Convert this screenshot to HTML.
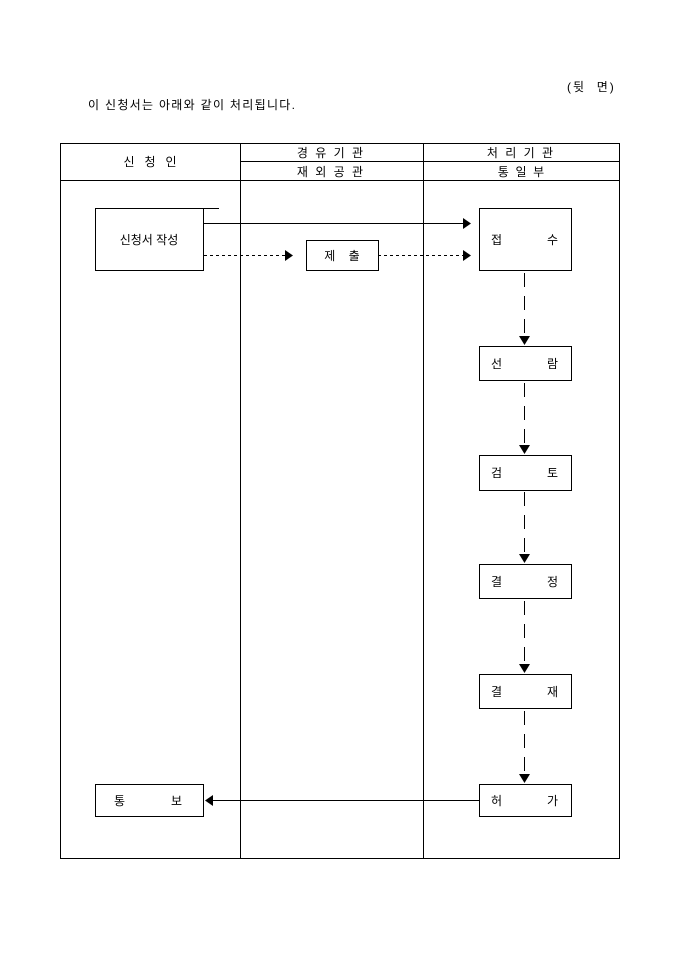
<!DOCTYPE html>
<html><head><meta charset="utf-8"><style>
body{margin:0;background:#fff;width:680px;height:962px;overflow:hidden}
svg text{font-family:"Liberation Sans","Noto Sans CJK KR","NanumGothic",sans-serif;font-size:12px;fill:#000}
</style></head><body>
<svg width="680" height="962" xmlns="http://www.w3.org/2000/svg">
<text x="567" y="91" letter-spacing="2" xml:space="preserve">(뒷  면)</text>
<text x="88" y="109" letter-spacing="1.3">이 신청서는 아래와 같이 처리됩니다.</text>
<g stroke="#000" stroke-width="1" fill="none">
<rect x="60.5" y="143.5" width="559" height="715"/>
<line x1="240.5" y1="143" x2="240.5" y2="859"/>
<line x1="423.5" y1="143" x2="423.5" y2="859"/>
<line x1="240" y1="161.5" x2="620" y2="161.5"/>
<line x1="60" y1="180.5" x2="620" y2="180.5"/>
<rect x="95.5" y="208.5" width="108" height="62"/>
<line x1="203" y1="208.5" x2="219" y2="208.5"/>
<rect x="479.5" y="208.5" width="92" height="62"/>
<rect x="306.5" y="240.5" width="72" height="30"/>
<rect x="479.5" y="346.5" width="92" height="34"/>
<rect x="479.5" y="455.5" width="92" height="35"/>
<rect x="479.5" y="564.5" width="92" height="34"/>
<rect x="479.5" y="674.5" width="92" height="34"/>
<rect x="479.5" y="784.5" width="92" height="32"/>
<rect x="95.5" y="784.5" width="108" height="32"/>
<line x1="204" y1="223.5" x2="464" y2="223.5"/>
<line x1="204" y1="255.5" x2="285" y2="255.5" stroke-dasharray="3,3"/>
<line x1="378" y1="255.5" x2="464" y2="255.5" stroke-dasharray="3,3"/>
<line x1="213" y1="800.5" x2="479" y2="800.5"/>
<g stroke-dasharray="14,9">
<line x1="524.5" y1="273" x2="524.5" y2="337"/>
<line x1="524.5" y1="383" x2="524.5" y2="446"/>
<line x1="524.5" y1="492" x2="524.5" y2="555"/>
<line x1="524.5" y1="601" x2="524.5" y2="665"/>
<line x1="524.5" y1="711" x2="524.5" y2="775"/>
</g>
</g>
<g fill="#000">
<polygon points="463,218 471,223.5 463,229"/>
<polygon points="285,250 293,255.5 285,261"/>
<polygon points="463,250 471,255.5 463,261"/>
<polygon points="213,795 205,800.5 213,806"/>
<polygon points="519,336 530,336 524.5,345"/>
<polygon points="519,445 530,445 524.5,454"/>
<polygon points="519,554 530,554 524.5,563"/>
<polygon points="519,664 530,664 524.5,673"/>
<polygon points="519,774 530,774 524.5,783"/>
</g>
<text x="150" y="166" text-anchor="middle" xml:space="preserve">신   청   인</text>
<text x="331" y="157" text-anchor="middle" letter-spacing="2">경 유 기 관</text>
<text x="331" y="176" text-anchor="middle" letter-spacing="2">재 외 공 관</text>
<text x="521" y="157" text-anchor="middle" letter-spacing="2">처 리 기 관</text>
<text x="521" y="176" text-anchor="middle" xml:space="preserve">통  일  부</text>
<text x="149" y="244" text-anchor="middle">신청서 작성</text>
<text x="342" y="260" text-anchor="middle" xml:space="preserve">제    출</text>
<text x="491" y="244">접</text><text x="547" y="244">수</text>
<text x="491" y="368">선</text><text x="547" y="368">람</text>
<text x="491" y="477">검</text><text x="547" y="477">토</text>
<text x="491" y="586">결</text><text x="547" y="586">정</text>
<text x="491" y="696">결</text><text x="547" y="696">재</text>
<text x="491" y="805">허</text><text x="547" y="805">가</text>
<text x="114" y="805">통</text><text x="171" y="805">보</text>
</svg>
</body></html>
